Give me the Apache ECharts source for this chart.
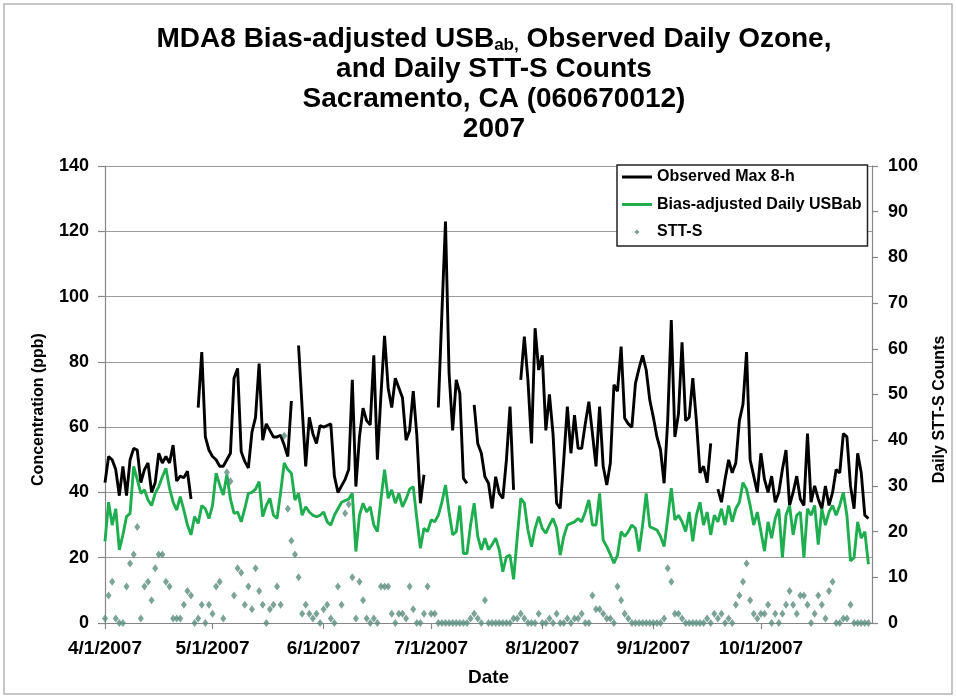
<!DOCTYPE html>
<html>
<head>
<meta charset="utf-8">
<title>MDA8 Bias-adjusted USBab, Observed Daily Ozone, and Daily STT-S Counts - Sacramento 2007</title>
<script src="https://cdn.jsdelivr.net/npm/echarts@6/dist/echarts.min.js"></script>
<style>
  html, body { margin: 0; padding: 0; background: #ffffff; }
  #chart { width: 956px; height: 698px; }
</style>
</head>
<body>
<div id="chart"></div>
<script>
// Daily series for Sacramento, CA (060670012), 4/1/2007 - 10/31/2007, one value per day.
// null = no observation that day.

const firstDay = '4/1/2007';
const axisEnd = '11/1/2007';
const tickLabels = ['4/1/2007', '5/1/2007', '6/1/2007', '7/1/2007', '8/1/2007', '9/1/2007', '10/1/2007'];

// Observed maximum daily 8-h average ozone (ppb)
const observedMax8h = [
  // April
  43, 51, 50, 47, 39, 48, 39, 50, 53.5, 53,
  43, 47, 49, 40, 43, 52, 49, 51, 49, 54.5,
  43.5, 45, 44.5, 46.5, 38, null, 66, 83, 57, 53,
  // May
  51, 50, 48, 48, 50, 52, 75, 78, 52.5, 49.5,
  47.5, 58.5, 63, 79.5, 56, 61, 59, 57, 57, 57.5,
  54.5, 51, 68, null, 85, 66, 48, 63, 58, 55,
  60.5,
  // June
  60, 60.5, 61, 45, 40, 42, 44, 47, 74.5, 41.8,
  57, 65.8, 62, 60.7, 82, 50, 70, 88, 72, 66,
  75, 72, 69, 56, 59, 71, 57.6, 36.7, 45.4, null,
  // July
  null, null, 66, 95, 123, 76.5, 59, 74.5, 70.4, 44.3,
  42.8, null, 66.8, 55, 52, 44.8, 42.8, 35.1, 44.8, 39.7,
  38.2, 50, 66.3, 40.8, null, 74.5, 87.7, 74.5, 55, 90.3,
  77.5,
  // August
  82, 59, 70, 58, 36.7, 35.1, 50, 66.3, 52, 63.7,
  53.5, 53.5, 61, 67.8, 58, 48, 66.3, 48, 42.3, 49,
  73, 71, 84.7, 62.7, 61, 60, 73.4, 78, 82, 77.5,
  68.3,
  // September
  63, 57, 53, 42.8, 62, 92.8, 57, 64, 86, 62,
  63, 75, 62, 46, 48, 43, 55, null, 41, 37,
  44, 50, 46, 49, 62, 67, 83, 50, 45, 40,
  // October
  52, 44, 40, 45, 37, 40, 47, 53, 36, 40,
  45, 38, 36, 58, 37, 42, 38, 35, 42, 36,
  40, 47, 46, 58, 57, 42, 35, 52, 46, 33,
  32
];

// Bias-adjusted daily US background (ppb)
const usbAdjusted = [
  // April
  25, 37, 30, 35, 22.4, 27, 32.6, 33.6, 48, 44,
  39.7, 40.8, 37.7, 36, 39.7, 41.8, 44.8, 47.4, 41.3, 37,
  34.6, 38.7, 34.6, 30, 27, 32.6, 30.5, 36, 35, 32,
  // May
  36, 45.9, 42.3, 39.2, 45.4, 38, 33.6, 34, 31, 35,
  39.7, 40, 41, 43.3, 32.6, 36, 38.2, 33, 32, 40,
  49, 47, 45.9, 37.7, 39.7, 33, 35.6, 34, 33, 32.6,
  33,
  // June
  34, 31, 30, 33, 35, 37, 37.5, 38, 39.7, 21.9,
  33, 36.7, 34, 35.6, 30, 28, 38, 47, 38.2, 40.8,
  36.7, 39.7, 35.6, 38, 41, 41.8, 32, 22.9, 29, 28,
  // July
  31.6, 31, 33, 37, 42.3, 34, 27, 28, 36, 21.3,
  21.3, 30, 36.7, 26.5, 22.4, 26, 22.5, 24, 26, 22.4,
  15.7, 20.3, 20.8, 13.4, 26, 38.2, 36.7, 28.5, 23.4, 29,
  32.6,
  // August
  29, 27.5, 30, 32, 29, 20.8, 26.5, 30, 30.5, 31,
  32, 31, 34, 37.7, 30, 30, 39.7, 25.4, 23.4, 21,
  18.3, 20.8, 28, 26.5, 28, 30, 29, 21.9, 30, 39.7,
  29.5,
  // September
  29, 28.5, 26.5, 23.4, 32, 41.3, 31.6, 33, 31, 28,
  34, 25, 33, 37, 30, 34, 27, 33, 31, 35,
  30, 36, 31, 35, 37, 43, 41, 36, 30, 34,
  // October
  28, 22, 31, 26, 32, 35, 20, 33, 36, 27,
  33, 34, 20, 35, 33, 36, 24, 35, 30, 34,
  36, 33, 36, 40, 33, 19, 20, 31, 26, 28,
  18
];

// Daily STT-S counts (right axis)
const sttCounts = [
  // April
  1, 6, 9, 1, 0, 0, 8, 13, 15, 21,
  1, 8, 9, 5, 12, 15, 15, 9, 8, 1,
  1, 1, 4, 7, 6, 0, 1, 4, 0, 4,
  // May
  2, 8, 9, 1, 33, 31, 6, 12, 11, 4,
  8, 3, 12, 7, 4, 0, 3, 4, 8, 4,
  41, 25, 18, 15, 10, 2, 4, 2, 1, 2,
  0,
  // June
  3, 4, 1, 0, 8, 4, 24, 26, 10, 1,
  9, 5, 1, 0, 1, 0, 8, 8, 8, 2,
  0, 2, 2, 1, 8, 3, 0, 0, 2, 8,
  // July
  2, 2, 0, 0, 0, 0, 0, 0, 0, 0,
  0, 1, 2, 1, 0, 5, 0, 0, 0, 0,
  0, 0, 0, 1, 1, 2, 1, 0, 0, 0,
  2,
  // August
  0, 0, 1, 0, 2, 0, 0, 1, 0, 1,
  1, 2, 0, 0, 6, 3, 3, 2, 1, 1,
  0, 8, 5, 2, 1, 0, 0, 0, 0, 0,
  0,
  // September
  0, 0, 0, 1, 12, 9, 2, 2, 1, 0,
  0, 0, 0, 0, 0, 1, 0, 2, 1, 2,
  0, 1, 0, 4, 6, 9, 13, 5, 2, 1,
  // October
  2, 2, 4, 0, 2, 0, 2, 4, 7, 4,
  2, 6, 6, 4, 0, 2, 6, 4, 1, 7,
  9, 0, 0, 1, 1, 4, 0, 0, 0, 0,
  0
];

// ---- helpers: dates are placed on a day-number axis counted from the first day ----
function toUTC(label) {
  const [m, d, y] = label.split('/').map(Number);
  return Date.UTC(y, m - 1, d);
}
const DAY_MS = 86400000;
function dayNumber(label) {
  return Math.round((toUTC(label) - toUTC(firstDay)) / DAY_MS);
}
const tickDays = tickLabels.map(dayNumber);
const lastDay = dayNumber(axisEnd);

function pairs(values) {
  return values.map((v, i) => [i, v]);
}

const FONT = "'Liberation Sans', Arial, Helvetica, sans-serif";
const AXIS_GRAY = '#868686';
const GRID_GRAY = '#9b9b9b';
const BLACK_LINE = '#000000';
const GREEN_LINE = '#1fae4f';
const STT_COLOR = '#5b8c7e';

// legend icons drawn inside a 30x14 box (corner specks fix the box size)
const BOX = 'M0,0L0.01,0L0,0.01ZM30,14L30.01,14L30,14.01Z';
const lineIcon = 'path://' + BOX + 'M0,5.5H30V8.5H0Z';
const dotIcon = 'path://' + BOX + 'M15,4.4L17.6,7L15,9.6L12.4,7Z';

const chart = echarts.init(document.getElementById('chart'), null, { renderer: 'canvas' });

chart.setOption({
  backgroundColor: '#ffffff',
  animation: false,
  textStyle: { fontFamily: FONT },
  title: {
    left: 489,
    top: 19,
    textAlign: 'center',
    text: '{t|MDA8 Bias-adjusted USB}{s|ab,}{t| Observed Daily Ozone,}\n' +
          '{t|and Daily STT-S Counts}\n' +
          '{t|Sacramento, CA (060670012)}\n' +
          '{t|2007}',
    textStyle: {
      rich: {
        t: { fontFamily: FONT, fontSize: 28, fontWeight: 'bold', color: '#000', lineHeight: 30 },
        s: { fontFamily: FONT, fontSize: 17, fontWeight: 'bold', color: '#000', lineHeight: 12, verticalAlign: 'bottom' }
      }
    }
  },
  legend: {
    orient: 'vertical',
    left: 617,
    top: 165,
    padding: [4, 6, 6, 5],
    itemWidth: 30,
    itemHeight: 14,
    itemGap: 11.5,
    backgroundColor: '#ffffff',
    borderColor: '#222222',
    borderWidth: 1.5,
    borderRadius: 0,
    itemStyle: { borderWidth: 0 },
    textStyle: { fontFamily: FONT, fontSize: 16, fontWeight: 'bold', color: '#000', lineHeight: 16 },
    data: [
      { name: 'Observed Max 8-h', icon: lineIcon },
      { name: 'Bias-adjusted Daily USBab', icon: lineIcon },
      { name: 'STT-S', icon: dotIcon }
    ]
  },
  graphic: [
    {
      type: 'rect',
      silent: true,
      z: -10,
      shape: { x: 4, y: 4, width: 948, height: 690 },
      style: { fill: 'none', stroke: '#b4b4b4', lineWidth: 1.5 }
    }
  ],
  grid: { left: 105, right: 81, top: 166, bottom: 75, containLabel: false },
  xAxis: {
    type: 'value',
    min: 0,
    max: lastDay,
    name: 'Date',
    nameLocation: 'middle',
    nameGap: 45,
    nameTextStyle: { fontFamily: FONT, fontSize: 19, fontWeight: 'bold', color: '#000' },
    axisLine: { show: true, lineStyle: { color: AXIS_GRAY, width: 1.2 } },
    axisTick: { show: true, length: 6, customValues: tickDays, lineStyle: { color: AXIS_GRAY, width: 1.2 } },
    axisLabel: {
      customValues: tickDays,
      margin: 16,
      fontFamily: FONT,
      fontSize: 19,
      fontWeight: 'bold',
      color: '#000',
      formatter: function (value) {
        const i = tickDays.indexOf(Math.round(value));
        return i >= 0 ? tickLabels[i] : '';
      }
    },
    splitLine: { show: false }
  },
  yAxis: [
    {
      type: 'value',
      min: 0,
      max: 140,
      interval: 20,
      position: 'left',
      name: 'Concentration (ppb)',
      nameLocation: 'middle',
      nameRotate: 90,
      nameGap: 58,
      nameTextStyle: { fontFamily: FONT, fontSize: 16, fontWeight: 'bold', color: '#000', padding: [0, 30, 0, 0] },
      axisLine: { show: true, lineStyle: { color: AXIS_GRAY, width: 1.2 } },
      axisTick: { show: true, length: 7, lineStyle: { color: AXIS_GRAY, width: 1.2 } },
      axisLabel: { margin: 16, fontFamily: FONT, fontSize: 18, fontWeight: 'bold', color: '#000' },
      splitLine: { show: true, lineStyle: { color: GRID_GRAY, width: 1.2 } }
    },
    {
      type: 'value',
      min: 0,
      max: 100,
      interval: 10,
      position: 'right',
      name: 'Daily STT-S Counts',
      nameLocation: 'middle',
      nameRotate: 90,
      nameGap: 60,
      nameTextStyle: { fontFamily: FONT, fontSize: 16, fontWeight: 'bold', color: '#000', padding: [0, 30, 0, 0] },
      axisLine: { show: true, lineStyle: { color: AXIS_GRAY, width: 1.2 } },
      axisTick: { show: true, length: 6, lineStyle: { color: AXIS_GRAY, width: 1.2 } },
      axisLabel: { margin: 16, fontFamily: FONT, fontSize: 18, fontWeight: 'bold', color: '#000' },
      splitLine: { show: false }
    }
  ],
  series: [
    {
      name: 'Observed Max 8-h',
      type: 'line',
      yAxisIndex: 0,
      color: BLACK_LINE,
      data: pairs(observedMax8h),
      showSymbol: false,
      symbol: 'none',
      connectNulls: false,
      lineStyle: { color: BLACK_LINE, width: 2.9 },
      z: 3
    },
    {
      name: 'Bias-adjusted Daily USBab',
      type: 'line',
      yAxisIndex: 0,
      color: GREEN_LINE,
      data: pairs(usbAdjusted),
      showSymbol: false,
      symbol: 'none',
      lineStyle: { color: GREEN_LINE, width: 2.9 },
      z: 3
    },
    {
      name: 'STT-S',
      type: 'scatter',
      yAxisIndex: 1,
      color: STT_COLOR,
      data: pairs(sttCounts),
      symbol: 'diamond',
      symbolSize: [6, 8],
      itemStyle: { color: STT_COLOR },
      z: 4
    }
  ]
});
</script>
</body>
</html>
